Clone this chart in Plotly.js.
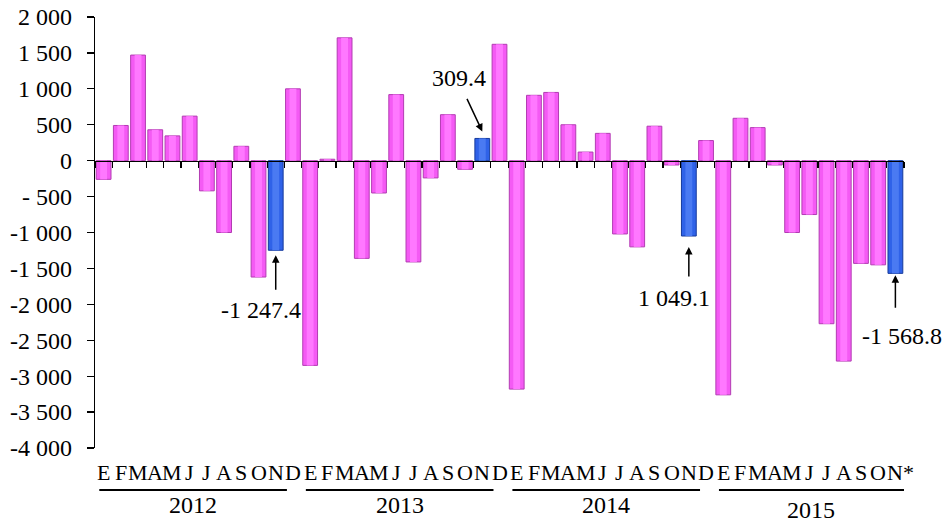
<!DOCTYPE html>
<html>
<head>
<meta charset="utf-8">
<script src="https://cdn.plot.ly/plotly-3.0.1.min.js"></script>
<style>html,body{margin:0;padding:0;background:#fff;}#chart{width:946px;height:523px;}</style>
</head>
<body>
<div id="chart"></div>
<script>
// Data (monthly values, Jan 2012 - Nov 2015)
const years = ["2012", "2013", "2014", "2015"];
const monthLetters = ["E","F","M","A","M","J","J","A","S","O","N","D"];
const values2012 = [-260, 490, 1470, 430, 345, 620, -420, -1000, 200, -1620, -1247.4, 1000];
const values2013 = [-2850, 20, 1710, -1360, -450, 920, -1410, -240, 640, -120, 309.4, 1620];
const values2014 = [-3180, 910, 950, 500, 120, 380, -1020, -1200, 480, -60, -1049.1, 280];
const values2015 = [-3260, 590, 460, -60, -1000, -750, -2270, -2790, -1430, -1450, -1568.8];
const lastLabel = "N*";
const highlightLabels = ["-1 247.4", "309.4", "1 049.1", "-1 568.8"];
const yTickVals = [2000,1500,1000,500,0,-500,-1000,-1500,-2000,-2500,-3000,-3500,-4000];
const yTickText = ["2 000","1 500","1 000","500","0","- 500","-1 000","-1 500","-2 000","-2 500","-3 000","-3 500","-4 000"];

const FONT = "'Liberation Serif', 'Times New Roman', Times, serif";
const FS = 24;
const FS_MONTH = 22;

const series = [values2012, values2013, values2014, values2015];
const xs = [], ys = [], letters = [], isNov = [];
series.forEach((arr, yi) => {
  arr.forEach((v, mi) => {
    xs.push(xs.length);
    ys.push(v);
    letters.push(yi === 3 && mi === arr.length - 1 ? lastLabel : monthLetters[mi]);
    isNov.push(mi === 10);
  });
});

const pink = "#f45af4", pinkEdge = "#b23cb2";
const blue = "#2f62e8", blueEdge = "#163a9c";
const colors = isNov.map(b => b ? blue : pink);
const edges = isNov.map(b => b ? blueEdge : pinkEdge);
const hi = isNov.map(b => b ? "#4a7af2" : "#ff78ff");

const traces = [
  { type: "bar", x: xs, y: ys, width: 0.86,
    marker: { color: colors, line: { color: edges, width: 1 } }, hoverinfo: "skip" },
  { type: "bar", x: xs, y: ys, width: 0.4,
    marker: { color: hi, line: { width: 0 } }, hoverinfo: "skip" }
];

const annotations = [];
letters.forEach((t, i) => {
  annotations.push({ x: i, y: -0.058, xref: "x", yref: "paper", text: t, showarrow: false,
    xanchor: "center", yanchor: "middle", xshift: t.length > 1 ? 5 : 0, borderpad: 0,
    font: { family: FONT, size: FS_MONTH, color: "#000" } });
});

const shapes = [];
let start = 0;
series.forEach((arr, yi) => {
  const first = start, last = start + arr.length - 1;
  const x0 = first - 0.25;
  const x1 = yi === series.length - 1 ? last + 0.5 : last - 0.35;
  shapes.push({ type: "line", xref: "x", yref: "paper", x0: x0, x1: x1, y0: -0.0975, y1: -0.0975,
    line: { color: "#000", width: 2 } });
  annotations.push({ x: (x0 + x1) / 2, y: yi === 3 ? -0.143 : -0.132, xref: "x", yref: "paper", text: years[yi],
    showarrow: false, xanchor: "center", yanchor: "middle", font: { family: FONT, size: FS, color: "#000" } });
  start += arr.length;
});

// Highlighted (November) bars with callouts
const novIdx = xs.filter(i => isNov[i]);
const callout = [
  { headOff: -5, ax: 0, ay: 36, tx: -15, ty: -60 },
  { headOff: 7, ax: -16, ay: -34, tx: -23, ty: 60 },
  { headOff: -11, ax: 0, ay: 31, tx: -15, ty: -62 },
  { headOff: -2, ax: 0, ay: 34, tx: 7, ty: -63 }
];
const pxPerUnit = 431 / 6000;
novIdx.forEach((i, k) => {
  const c = callout[k];
  const v = ys[i];
  annotations.push({ x: i, y: v + c.headOff / pxPerUnit, xref: "x", yref: "y", text: "", showarrow: true,
    ax: c.ax, ay: c.ay, arrowhead: 2, arrowsize: 1, arrowwidth: 1.5, arrowcolor: "#000", standoff: 0, startstandoff: 0 });
  annotations.push({ x: i, y: v, xref: "x", yref: "y", text: highlightLabels[k], showarrow: false,
    xshift: c.tx, yshift: c.ty, xanchor: "center", yanchor: "middle",
    font: { family: FONT, size: FS, color: "#000" } });
});

const layout = {
  width: 946, height: 523,
  margin: { l: 95, r: 42, t: 17, b: 75 },
  paper_bgcolor: "#fff", plot_bgcolor: "#fff",
  showlegend: false, barmode: "overlay",
  font: { family: FONT, size: FS, color: "#000" },
  xaxis: {
    range: [-0.5, xs.length - 0.5], anchor: "free", position: 4000 / 6000,
    showline: true, linecolor: "#000", linewidth: 1.5,
    ticks: "outside", ticklen: 6, tickwidth: 1.2, tickcolor: "#000",
    tickvals: xs.concat([xs.length]).map(i => i - 0.5), showticklabels: false,
    showgrid: false, zeroline: false, fixedrange: true
  },
  yaxis: {
    range: [-4000, 2000], tickvals: yTickVals, ticktext: yTickText,
    showline: true, linecolor: "#000", linewidth: 1.2,
    ticks: "outside", ticklen: 7, tickwidth: 1.2, tickcolor: "#000",
    ticklabelstandoff: 10,
    showgrid: false, zeroline: false, fixedrange: true,
    tickfont: { family: FONT, size: FS, color: "#000" }
  },
  annotations: annotations,
  shapes: shapes
};

Plotly.newPlot("chart", traces, layout, { displayModeBar: false, staticPlot: true });
</script>
</body>
</html>
